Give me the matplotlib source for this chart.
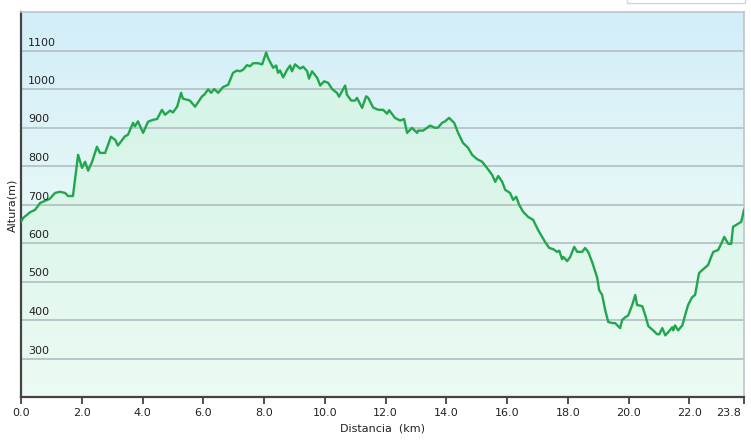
import numpy as np
import matplotlib
matplotlib.use("Agg")
import matplotlib.pyplot as plt
from matplotlib.colors import LinearSegmentedColormap
from matplotlib.patches import Rectangle
from matplotlib.transforms import ScaledTranslation

# elevation profile
dist_km = [0.00, 0.07, 0.30, 0.46, 0.63, 0.95, 1.12, 1.28, 1.45, 1.55, 1.71, 1.88,
           2.01, 2.11, 2.21, 2.34, 2.50, 2.60, 2.77, 2.96, 3.10, 3.19, 3.42, 3.52,
           3.69, 3.75, 3.85, 4.02, 4.18, 4.35, 4.48, 4.64, 4.74, 4.91, 5.00, 5.14,
           5.27, 5.33, 5.56, 5.73, 5.96, 6.03, 6.16, 6.26, 6.36, 6.49, 6.65, 6.82,
           6.98, 7.11, 7.21, 7.31, 7.44, 7.54, 7.64, 7.80, 7.94, 8.07, 8.13, 8.30,
           8.40, 8.46, 8.53, 8.63, 8.76, 8.86, 8.92, 9.02, 9.19, 9.29, 9.42, 9.48,
           9.58, 9.75, 9.85, 9.98, 10.11, 10.24, 10.40, 10.47, 10.67, 10.73, 10.87,
           11.00, 11.06, 11.23, 11.36, 11.43, 11.59, 11.76, 11.92, 12.05, 12.12,
           12.31, 12.48, 12.61, 12.71, 12.87, 13.04, 13.07, 13.24, 13.47, 13.63,
           13.73, 13.86, 13.96, 14.09, 14.26, 14.39, 14.55, 14.72, 14.85, 15.01,
           15.18, 15.34, 15.51, 15.61, 15.71, 15.84, 15.94, 16.10, 16.20, 16.30,
           16.40, 16.53, 16.69, 16.86, 17.02, 17.25, 17.39, 17.52, 17.65, 17.72,
           17.81, 17.85, 17.98, 18.08, 18.21, 18.31, 18.47, 18.57, 18.67, 18.80,
           18.97, 19.03, 19.13, 19.23, 19.33, 19.46, 19.56, 19.66, 19.72, 19.79,
           19.89, 19.99, 20.12, 20.22, 20.28, 20.45, 20.55, 20.65, 20.81, 20.94,
           21.01, 21.11, 21.21, 21.30, 21.44, 21.47, 21.53, 21.63, 21.77, 21.86,
           21.96, 22.09, 22.19, 22.32, 22.46, 22.62, 22.72, 22.79, 22.95, 23.08,
           23.15, 23.28, 23.38, 23.44, 23.61, 23.71, 23.80]
altura_m = [655, 665, 680, 686, 704, 715, 730, 733, 730, 722, 722, 829,
            795, 811, 788, 811, 850, 834, 834, 876, 868, 853, 877, 881,
            912, 903, 916, 886, 915, 920, 922, 946, 933, 944, 939, 954,
            990, 975, 970, 954, 981, 985, 999, 990, 1000, 990, 1005, 1011,
            1042, 1048, 1046, 1050, 1062, 1059, 1067, 1067, 1064, 1095, 1081, 1055,
            1061, 1042, 1048, 1030, 1050, 1061, 1046, 1064, 1053, 1058, 1046, 1027,
            1046, 1029, 1009, 1020, 1016, 1000, 990, 980, 1009, 985, 970,
            970, 977, 951, 981, 977, 952, 946, 946, 936, 945,
            925, 918, 922, 886, 899, 886, 892, 892, 905, 899,
            900, 912, 916, 925, 912, 886, 860, 847, 829, 818,
            811, 795, 777, 759, 774, 759, 738, 730, 712, 720,
            699, 681, 668, 660, 634, 603, 587, 584, 577, 580,
            558, 564, 553, 564, 590, 577, 577, 587, 577, 551,
            509, 478, 465, 426, 395, 392, 392, 384, 379, 400,
            407, 412, 439, 465, 439, 436, 412, 384, 373, 363,
            363, 379, 360, 368, 381, 373, 386, 373, 386, 412,
            439, 459, 465, 522, 532, 543, 564, 577, 582, 603,
            616, 598, 598, 642, 650, 655, 686]

x_ticks = [0, 2, 4, 6, 8, 10, 12, 14, 16, 18, 20, 22, 23.8]
x_tick_labels = ["0.0", "2.0", "4.0", "6.0", "8.0", "10.0", "12.0", "14.0",
                 "16.0", "18.0", "20.0", "22.0", "23.8"]
y_ticks = [300, 400, 500, 600, 700, 800, 900, 1000, 1100]

x = np.array(dist_km)
y = np.array(altura_m)
xmin, xmax, ymin, ymax = 0, 23.8, 200, 1200

fig = plt.figure(figsize=(7.51, 4.42), dpi=100)
ax = fig.add_axes([21 / 751, 45 / 442, 723 / 751, 385 / 442])
ax.set_xlim(xmin, xmax)
ax.set_ylim(ymin, ymax)

# sky background gradient
sky = LinearSegmentedColormap.from_list("sky", ["#eafaf1", "#e6f7f6", "#d2eef9"])
grad = np.linspace(0, 1, 256).reshape(-1, 1)
ax.imshow(grad, cmap=sky, aspect="auto", origin="lower",
          extent=[xmin, xmax, ymin, ymax], zorder=0)

# gradient fill under the profile
mint = LinearSegmentedColormap.from_list("mint", ["#ecfbf3", "#dcf6ea", "#d3f3e6"])
im = ax.imshow(grad, cmap=mint, aspect="auto", origin="lower",
               extent=[xmin, xmax, ymin, ymax], zorder=1)
poly = ax.fill_between(x, y, ymin, color="none", lw=0)
path = poly.get_paths()[0]
im.set_clip_path(path, transform=ax.transData)

for v in y_ticks:
    ax.axhline(v, color="#b9c6c9", lw=1.4, zorder=2)
    ax.annotate(str(v), xy=(0, v), xycoords=("axes fraction", "data"),
                xytext=(7, 3), textcoords="offset pixels", va="bottom", ha="left",
                fontsize=8, color="#222222", zorder=5)

ax.plot(x, y, color="#22a64c", lw=1.7, zorder=4)

ax.set_xticks(x_ticks)
ax.set_xticklabels(x_tick_labels, fontsize=8, color="#222222")
ax.set_yticks([])
ax.tick_params(axis="x", direction="out", length=5, width=1.2, color="#333333", pad=3)

# last label sits left of its tick so it stays inside the picture
last = ax.get_xticklabels()[-1]
last.set_horizontalalignment("right")
last.set_transform(last.get_transform() + ScaledTranslation(-3 / 100, 0, fig.dpi_scale_trans))

for side in ["top", "right"]:
    ax.spines[side].set_color("#bcc6ca")
    ax.spines[side].set_linewidth(1.2)
for side in ["left", "bottom"]:
    ax.spines[side].set_color("#444444")
    ax.spines[side].set_linewidth(1.6)

ax.set_xlabel("Distancia  (km)", fontsize=8, color="#222222", labelpad=4)
fig.text(12 / 751, 1 - 205 / 442, "Altura(m)", rotation=90, fontsize=8,
         color="#222222", ha="center", va="center")

# partial box peeking in at top right
fig.patches.append(Rectangle((627 / 751, 439 / 442), 118 / 751, 0.05,
                             transform=fig.transFigure, facecolor="white",
                             edgecolor="#d0d6da", lw=1))

fig.savefig("out.png", dpi=100)
